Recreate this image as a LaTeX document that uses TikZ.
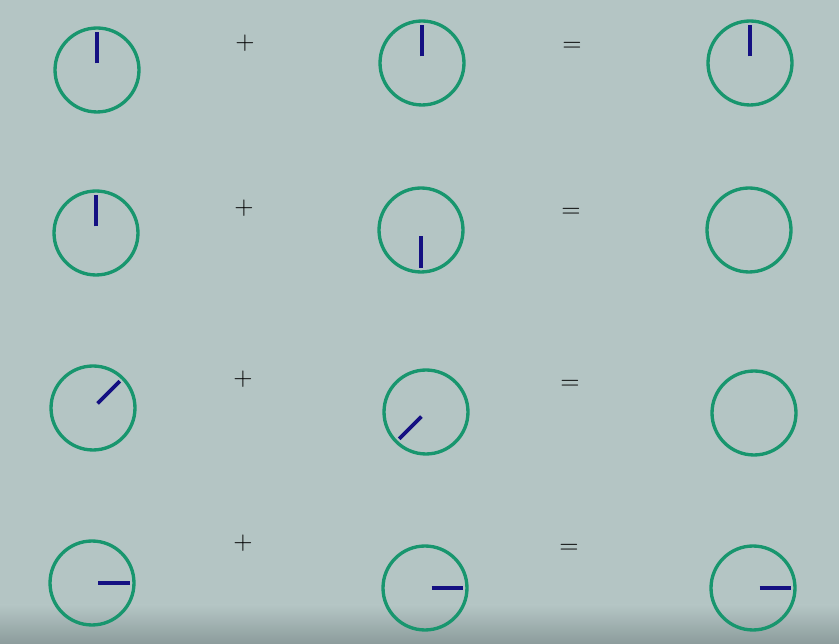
\documentclass[tikz,border=0pt]{standalone}
\usepackage{tikz}
\usetikzlibrary{calc}

\definecolor{dialgreen}{RGB}{24,150,110}
\definecolor{handblue}{RGB}{20,16,130}
\definecolor{slate}{RGB}{180,197,196}
\definecolor{slatedark}{RGB}{140,156,156}

\tikzset{
  dial/.style={circle, draw=dialgreen, line width=1.9pt, minimum size=1.68cm, inner sep=0pt},
  hand/.style={draw=handblue, line width=2.1pt},
  sign/.style={inner sep=0pt, font=\Large}
}
\newcommand{\hand}[2]{\draw[hand] ([shift={(#2:0.13cm)}]#1.center) -- ([shift={(#2:0.76cm)}]#1.center);}

\begin{document}
\begin{tikzpicture}[x=0.02cm, y=-0.02cm]
\fill[slate] (0,0) rectangle (839,644);
\shade[top color=slate, bottom color=slatedark] (0,605) rectangle (839,644);
\useasboundingbox (0,0) rectangle (839,644);

\node[dial] (A1) at (97,70) {};
\node[dial] (B1) at (422,63) {};
\node[dial] (C1) at (750,63) {};

\node[dial] (A2) at (96,233) {};
\node[dial] (B2) at (421,230) {};
\node[dial] (C2) at (749,230) {};

\node[dial] (A3) at (93,408) {};
\node[dial] (B3) at (426,412) {};
\node[dial] (C3) at (754,413) {};

\node[dial] (A4) at (92,583) {};
\node[dial] (B4) at (425,588) {};
\node[dial] (C4) at (753,588) {};

\hand{A1}{90}
\hand{B1}{90}
\hand{C1}{90}

\hand{A2}{90}
\hand{B2}{-90}

\hand{A3}{45}
\hand{B3}{225}

\hand{A4}{0}
\hand{B4}{0}
\hand{C4}{0}

\node[sign] (p1) at (245,43) {$+$};
\node[sign] (e1) at (572,47) {$=$};
\node[sign] (p2) at (244,208) {$+$};
\node[sign] (e2) at (571,213) {$=$};
\node[sign] (p3) at (243,379) {$+$};
\node[sign] (e3) at (570,385) {$=$};
\node[sign] (p4) at (243,543) {$+$};
\node[sign] (e4) at (569,549) {$=$};
\end{tikzpicture}
\end{document}
